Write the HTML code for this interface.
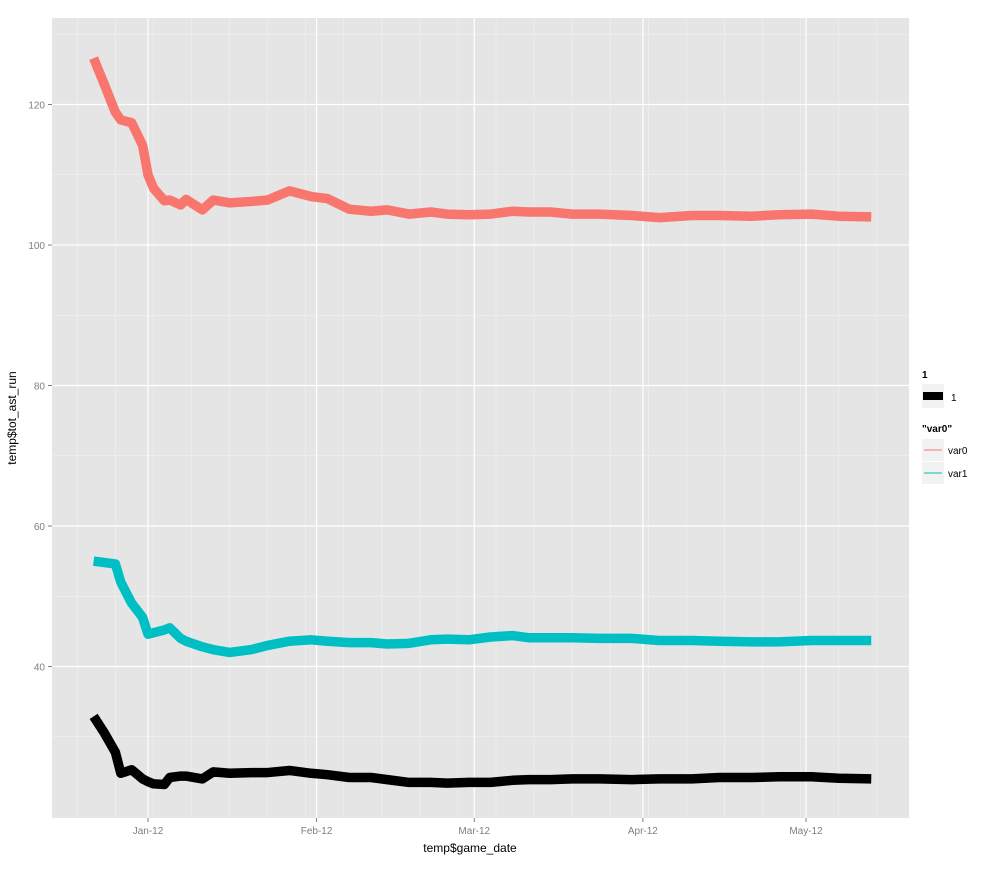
<!DOCTYPE html>
<html><head><meta charset="utf-8"><style>
body{margin:0;background:#fff;font-family:"Liberation Sans",Arial,sans-serif}
svg text{font-family:"Liberation Sans",Arial,sans-serif}
</style></head><body>
<svg id="chart" width="1000" height="867" xmlns="http://www.w3.org/2000/svg">
<rect x="52" y="18" width="857" height="800" fill="#e5e5e5"/>
<g id="grid"></g>
<g id="series"></g>
<g id="axes"></g>
<text x="470" y="852" font-size="12" text-anchor="middle" fill="#000">temp$game_date</text>
<text transform="translate(16,418) rotate(-90)" font-size="12" text-anchor="middle" fill="#000">temp$tot_ast_run</text>
<g>
<text x="922" y="378" font-size="10" font-weight="bold">1</text>
<rect x="922" y="384" width="22" height="24" fill="#f2f2f2"/>
<rect x="923" y="392" width="20" height="8" fill="#000"/>
<text x="951" y="401" font-size="10">1</text>
<text x="922" y="432" font-size="10" font-weight="bold">"var0"</text>
<rect x="922" y="439" width="22" height="22" fill="#f2f2f2"/>
<line x1="924" y1="450" x2="942" y2="450" stroke="#f8766d" stroke-width="1"/>
<text x="948" y="454" font-size="10">var0</text>
<rect x="922" y="462" width="22" height="22" fill="#f2f2f2"/>
<line x1="924" y1="473" x2="942" y2="473" stroke="#00bfc4" stroke-width="1"/>
<text x="948" y="477" font-size="10">var1</text>
</g>
</svg>
<script>
const gameDay=[-10,-8,-6,-5,-3,-1,0,1,3,4,6,7,10,12,15,19,22,26,30,33,37,41,44,48,52,55,59,63,67,70,74,78,83,89,94,100,105,111,116,122,127,133];
const var0Values=[126.6,122.8,118.9,117.8,117.4,114.2,110,108.1,106.3,106.4,105.7,106.5,105,106.4,106,106.2,106.4,107.7,106.9,106.6,105.1,104.8,105,104.4,104.7,104.4,104.3,104.4,104.8,104.7,104.7,104.4,104.4,104.2,103.9,104.2,104.2,104.1,104.3,104.4,104.1,104.0];
const var1Values=[55,54.8,54.6,52,49,47,44.6,44.8,45.2,45.5,44,43.6,42.8,42.4,42.0,42.4,43,43.6,43.8,43.6,43.4,43.4,43.2,43.3,43.8,43.9,43.8,44.2,44.4,44.1,44.1,44.1,44,44,43.7,43.7,43.6,43.5,43.5,43.7,43.7,43.7];
const totalValues=[32.9,30.5,27.8,24.8,25.3,24,23.6,23.3,23.2,24.2,24.4,24.4,24,25,24.8,24.9,24.9,25.2,24.8,24.6,24.2,24.2,23.9,23.5,23.5,23.4,23.5,23.5,23.8,23.9,23.9,24,24,23.9,24,24,24.2,24.2,24.3,24.3,24.1,24.0];
const yTicks=[40,60,80,100,120];
const yMinor=[30,50,70,90,110,130];
const xTickDays=[0,31,60,91,121];
const xTickLabels=["Jan-12","Feb-12","Mar-12","Apr-12","May-12"];
const xMinorDays=[-13,-6,1,8,15,22,29,36,43,50,57,64,71,78,85,92,99,106,113,120,127,134];

const NS="http://www.w3.org/2000/svg";
function xs(d){return 148+d*5.438;}
function ys(v){return 245-(v-100)*7.025;}
function mk(tag,attrs,parent){const e=document.createElementNS(NS,tag);for(const k in attrs)e.setAttribute(k,attrs[k]);parent.appendChild(e);return e;}
const grid=document.getElementById('grid'),axes=document.getElementById('axes'),ser=document.getElementById('series');
yMinor.forEach(v=>{const y=ys(v);if(y<18||y>818)return;
 const l=mk('line',{x1:52,x2:909,y1:y,y2:y,stroke:'#f2f2f2','stroke-width':0.6},grid);
 
 });
xMinorDays.forEach(d=>{const x=xs(d);if(x<52||x>909)return;
 const l=mk('line',{x1:x,x2:x,y1:18,y2:818,stroke:'#f2f2f2','stroke-width':0.6},grid);
 
 });
yTicks.forEach(v=>{const y=ys(v);
 const l=mk('line',{x1:52,x2:909,y1:y,y2:y,stroke:'#fff','stroke-width':1.2},grid);
 
 
 mk('line',{x1:48,x2:52,y1:y,y2:y,stroke:'#7f7f7f'},axes);
 const t=mk('text',{x:45,y:y+4,'font-size':10,'text-anchor':'end',fill:'#7f7f7f'},axes);t.textContent=v;
 
 });
xTickDays.forEach((d,i)=>{const x=xs(d);
 const l=mk('line',{x1:x,x2:x,y1:18,y2:818,stroke:'#fff','stroke-width':1.2},grid);
 
 
 mk('line',{x1:x,x2:x,y1:818,y2:822,stroke:'#7f7f7f'},axes);
 const t=mk('text',{x:x,y:834,'font-size':10,'text-anchor':'middle',fill:'#7f7f7f'},axes);t.textContent=xTickLabels[i];
 
 });
function drawLine(vals,color,name){
 const pts=vals.map((v,i)=>xs(gameDay[i])+','+ys(v)).join(' ');
 const p=mk('polyline',{points:pts,fill:'none',stroke:color,'stroke-width':9.5,'stroke-linejoin':'round','stroke-linecap':'butt'},ser);
 
 }
drawLine(var0Values,'#f8766d','line-var0');
drawLine(var1Values,'#00bfc4','line-var1');
drawLine(totalValues,'#000000','line-total');
</script>
</body></html>
